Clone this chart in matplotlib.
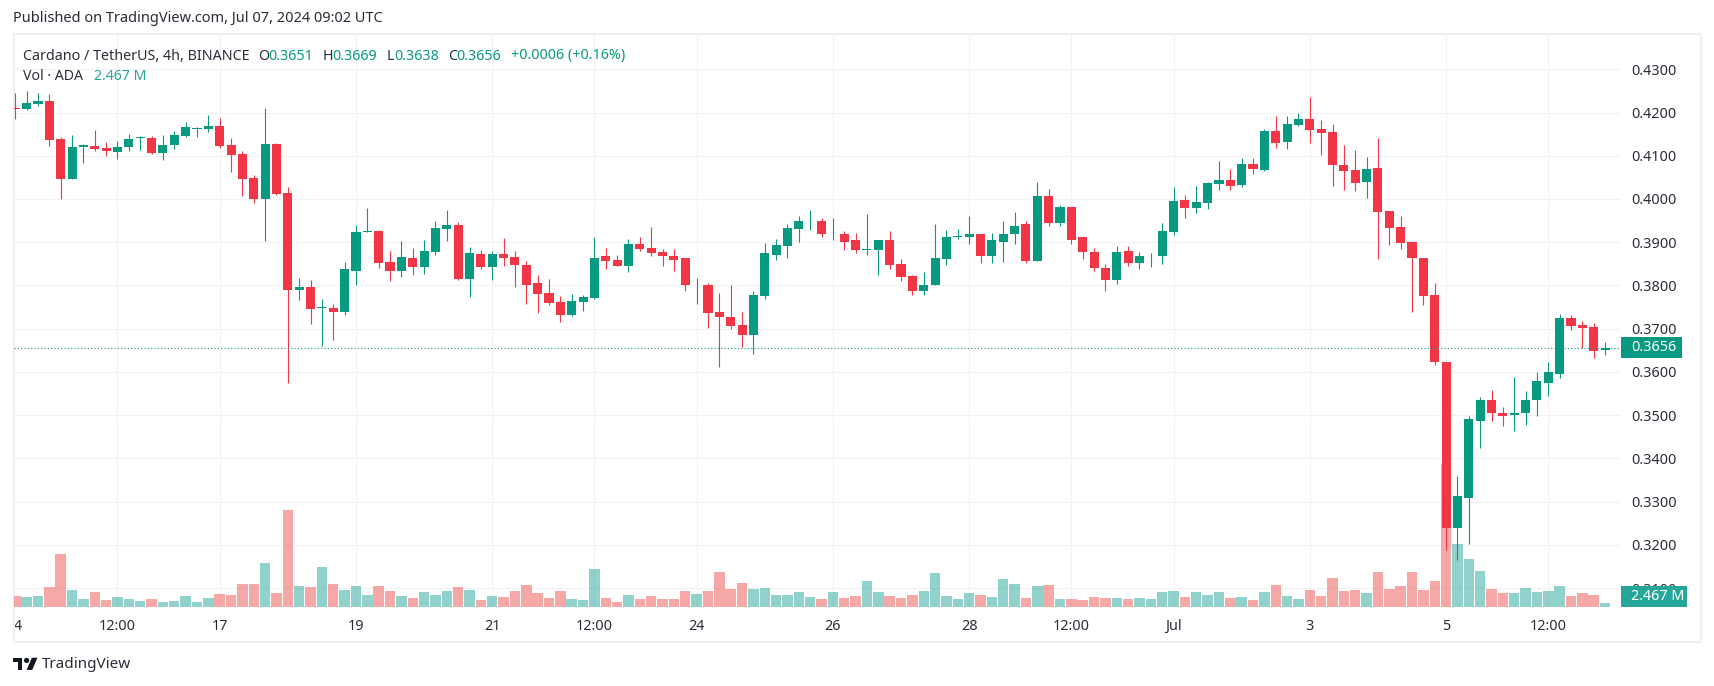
import matplotlib
matplotlib.use('Agg')
import matplotlib.pyplot as plt
from matplotlib.patches import Rectangle, Polygon

plt.rcParams['font.family'] = ['Noto Sans', 'DejaVu Sans']

opens = [.4211,.4207,.4220,.4227,.4139,.4046,.4121,.4123,.4118,.4109,.4120,.4141,.4141,.4107,.4125,.4146,.4162,.4162,.4169,.4125,
         .4104,.4049,.4000,.4127,.4014,.3790,.3796,.3748,.3748,.3739,.3834,.3924,.3926,.3854,.3834,.3864,.3843,.3878,.3931,.3940,
         .3815,.3873,.3843,.3873,.3866,.3847,.3806,.3783,.3762,.3732,.3762,.3772,.3867,.3860,.3846,.3897,.3887,.3878,.3869,.3864,
         .3800,.3802,.3739,.3726,.3709,.3686,.3776,.3871,.3892,.3931,.3948,.3950,.3918,.3920,.3904,.3883,.3883,.3904,.3850,.3823,
         .3786,.3800,.3862,.3913,.3913,.3920,.3869,.3901,.3920,.3941,.3857,.4008,.3945,.3982,.3911,.3878,.3841,.3813,.3880,.3853,
         .3867,.3867,.3923,.3997,.3979,.3990,.4034,.4043,.4032,.4080,.4066,.4157,.4131,.4171,.4184,.4161,.4154,.4078,.4066,.4039,
         .4071,.3972,.3935,.3900,.3863,.3777,.3624,.3238,.3309,.3487,.3536,.3506,.3501,.3504,.3534,.3575,.3596,.3724,.3708,.3703,.3651]
highs = [.4245,.4250,.4245,.4243,.4144,.4148,.4127,.4160,.4132,.4134,.4150,.4146,.4146,.4148,.4157,.4178,.4167,.4194,.4187,.4141,
         .4111,.4056,.4211,.4130,.4028,.3817,.3813,.3769,.3757,.3854,.3940,.3979,.3928,.3880,.3903,.3887,.3905,.3949,.3975,.3947,
         .3889,.3882,.3880,.3910,.3880,.3857,.3824,.3815,.3776,.3780,.3778,.3913,.3887,.3871,.3908,.3913,.3936,.3885,.3885,.3864,
         .3818,.3806,.3783,.3802,.3739,.3788,.3899,.3908,.3941,.3961,.3975,.3955,.3955,.3927,.3922,.3966,.3904,.3927,.3862,.3825,
         .3830,.3943,.3929,.3931,.3961,.3920,.3922,.3950,.3971,.3950,.4040,.4022,.3987,.3982,.3911,.3887,.3850,.3892,.3892,.3878,
         .3874,.3945,.4028,.4009,.4029,.4039,.4087,.4069,.4094,.4094,.4161,.4191,.4191,.4198,.4235,.4182,.4173,.4124,.4113,.4096,
         .4140,.3972,.3960,.3902,.3863,.3805,.3624,.3360,.3499,.3543,.3559,.3518,.3589,.3555,.3599,.3624,.3733,.3731,.3717,.3713,.3669]
lows = [.4186,.4206,.4216,.4123,.4000,.4046,.4083,.4112,.4100,.4093,.4111,.4113,.4104,.4090,.4116,.4144,.4144,.4155,.4118,.4063,
        .4007,.3991,.3903,.4009,.3574,.3766,.3711,.3660,.3674,.3732,.3801,.3924,.3840,.3810,.3820,.3824,.3827,.3871,.3903,.3813,
        .3773,.3838,.3813,.3845,.3796,.3757,.3736,.3755,.3716,.3729,.3741,.3769,.3839,.3846,.3832,.3880,.3867,.3846,.3834,.3786,
        .3758,.3702,.3612,.3700,.3658,.3642,.3769,.3860,.3864,.3901,.3929,.3911,.3906,.3883,.3874,.3871,.3825,.3839,.3811,.3779,
        .3779,.3800,.3848,.3908,.3897,.3853,.3853,.3855,.3897,.3853,.3857,.3938,.3938,.3897,.3862,.3834,.3786,.3804,.3846,.3837,
        .3843,.3850,.3916,.3955,.3967,.3976,.4020,.4020,.4027,.4057,.4064,.4117,.4115,.4168,.4129,.4101,.4029,.4020,.4018,.4002,
        .3861,.3893,.3884,.3738,.3754,.3615,.3187,.3166,.3201,.3425,.3487,.3474,.3464,.3478,.3497,.3545,.3587,.3696,.3656,.3632,.3638]
closes = [.4207,.4222,.4227,.4137,.4046,.4120,.4124,.4116,.4111,.4120,.4139,.4144,.4107,.4125,.4148,.4167,.4164,.4169,.4123,.4102,
          .4046,.4000,.4127,.4012,.3789,.3796,.3746,.3750,.3739,.3838,.3924,.3926,.3852,.3834,.3866,.3843,.3880,.3933,.3940,.3815,
          .3875,.3843,.3873,.3864,.3847,.3801,.3780,.3759,.3732,.3764,.3773,.3864,.3857,.3846,.3897,.3885,.3876,.3867,.3860,.3800,
          .3802,.3737,.3726,.3707,.3686,.3779,.3874,.3894,.3934,.3948,.3950,.3918,.3920,.3901,.3883,.3885,.3904,.3848,.3820,.3786,
          .3802,.3864,.3913,.3915,.3918,.3869,.3904,.3920,.3938,.3857,.4008,.3945,.3982,.3906,.3878,.3841,.3813,.3878,.3853,.3867,
          .3869,.3927,.3995,.3979,.3992,.4036,.4043,.4029,.4080,.4069,.4157,.4129,.4173,.4184,.4159,.4152,.4078,.4064,.4036,.4069,
          .3969,.3932,.3898,.3863,.3775,.3622,.3240,.3312,.3490,.3536,.3504,.3499,.3504,.3536,.3580,.3599,.3724,.3706,.3701,.3649,.3656]
# volume in millions of ADA
volumes = [6.8,6.2,6.8,12.3,32.7,10.5,4.9,9.3,4.3,6.2,4.9,3.7,4.9,3.1,3.7,6.8,3.1,5.6,8.0,7.4,
           14.2,14.2,27.1,8.6,59.8,13.0,12.3,24.7,14.2,10.5,13.0,7.4,13.0,9.9,6.8,5.6,9.3,7.4,9.9,12.3,
           10.5,4.3,6.8,6.2,9.9,13.6,8.6,5.6,9.9,4.9,4.3,23.4,5.6,3.1,7.4,4.9,6.8,4.9,4.9,9.9,
           8.0,9.9,21.6,11.1,14.8,11.1,11.7,7.4,7.4,9.3,6.2,4.9,9.3,5.6,6.8,16.0,9.3,6.8,5.6,7.4,
           9.9,21.0,6.8,4.9,8.6,7.4,6.2,17.3,14.2,5.6,13.0,13.6,4.9,4.9,4.3,6.2,5.6,5.6,4.9,5.6,
           4.9,9.3,9.9,6.2,9.3,7.4,9.3,5.6,6.2,4.3,9.3,13.6,6.8,4.9,10.5,6.8,17.9,9.9,10.5,8.6,
           21.6,11.1,13.0,21.6,10.5,16.0,88.2,38.9,29.6,22.2,11.1,8.6,8.6,11.7,9.3,9.9,13.0,6.8,8.6,7.4,2.467]

tick_positions = [9, 18, 30, 42, 51, 60, 72, 84, 93, 102, 114, 126, 135]
tick_labels = ['12:00', '17', '19', '21', '12:00', '24', '26', '28', '12:00', 'Jul', '3', '5', '12:00']
price_ticks = [.31, .32, .33, .34, .35, .36, .37, .38, .39, .40, .41, .42, .43]

GREEN = '#089981'
RED = '#F23645'
VOL_GREEN = (0.149, 0.651, 0.604, 0.5)
VOL_RED = (0.937, 0.325, 0.314, 0.5)
GRID = '#F2F2F5'
FRAME = '#EEEFF5'
TEXT = '#2A2E39'

W, H = 1714, 686
fig = plt.figure(figsize=(W / 100, H / 100), dpi=100, facecolor='white')


def fx(x):
    return x / W


def fy(y):
    return 1 - y / H


rect = [fx(14), fy(608), (1620.5 - 14) / W, (608 - 35) / H]
xlim = (-0.114, 141.36)
ylim = (0.30539, 0.43793)

# three layers so the bars sit over the grid and under the candles
ax = fig.add_axes(rect)
ax.set_xlim(xlim)
ax.set_ylim(ylim)
ax.set_xticks(tick_positions)
ax.set_xticklabels(tick_labels)
ax.set_yticks(price_ticks)
ax.set_yticklabels(['%.4f' % p for p in price_ticks])
ax.yaxis.tick_right()
ax.tick_params(axis='both', length=0, labelsize=10.4, labelcolor=TEXT)
ax.tick_params(axis='y', pad=7.5)
ax.tick_params(axis='x', pad=8)
ax.grid(True, color=GRID, linewidth=0.8)
ax.set_axisbelow(True)
for s in ax.spines.values():
    s.set_visible(False)
for lab in ax.get_xticklabels():
    if lab.get_text() == 'Jul':
        lab.set_fontweight('bold')
ax.text(0.25, -0.0315, '4', transform=ax.get_xaxis_transform(), ha='center', va='center',
        fontsize=10.4, color=TEXT)

x = list(range(len(closes)))
up = [c >= o for o, c in zip(opens, closes)]

ax_vol = fig.add_axes(rect, zorder=2)
ax_vol.patch.set_visible(False)
ax_vol.axis('off')
ax_vol.set_xlim(xlim)
ax_vol.set_ylim(-0.6, 352.7)
ax_vol.bar(x, volumes, width=0.92, color=[VOL_GREEN if u else VOL_RED for u in up], linewidth=0)

ax_price = fig.add_axes(rect, zorder=3)
ax_price.patch.set_visible(False)
ax_price.axis('off')
ax_price.set_xlim(xlim)
ax_price.set_ylim(ylim)
colors = [GREEN if u else RED for u in up]
ax_price.vlines(x, lows, highs, color=colors, linewidth=0.8)
ax_price.bar(x, [abs(c - o) for o, c in zip(opens, closes)],
             bottom=[min(o, c) for o, c in zip(opens, closes)],
             width=0.8, color=colors, linewidth=0)

# last price line and the tags on the scale
last = closes[-1]
ax_price.axhline(last, color=GREEN, linewidth=0.8, linestyle=(0, (1, 2)))
ax_price.add_patch(Rectangle((1, last - 0.0024), 61 / 1606.5, 0.0048, transform=ax_price.get_yaxis_transform(),
                             color=GREEN, linewidth=0, clip_on=False))
ax_price.text(1 + 11 / 1606.5, last, '%.4f' % last, transform=ax_price.get_yaxis_transform(),
              ha='left', va='center', color='white', fontsize=10.4, fontweight='medium')
ax_vol.add_patch(Rectangle((1, 0), 66 / 1606.5, 12.9, transform=ax_vol.get_yaxis_transform(),
                           color='#26A69A', linewidth=0, clip_on=False))
ax_vol.text(1 + 11 / 1606.5, 6.3, '2.467 M', transform=ax_vol.get_yaxis_transform(),
            ha='left', va='center', color='white', fontsize=10.4, fontweight='medium')

# outer frame
fig.add_artist(Rectangle((fx(13.5), fy(642)), (1701 - 13.5) / W, (642 - 34.3) / H, transform=fig.transFigure,
                         fill=False, edgecolor=FRAME, linewidth=1.5))

# header and legend
fig.text(fx(13), fy(19), 'Published on TradingView.com, Jul 07, 2024 09:02 UTC', color=TEXT,
         fontsize=10.5, va='center')
legend = [(23, 'Cardano / TetherUS, 4h, BINANCE', TEXT), (258, 'O', TEXT), (268.5, '0.3651', GREEN),
          (322.5, 'H', TEXT), (332, '0.3669', GREEN), (386.5, 'L', TEXT), (394, '0.3638', GREEN),
          (448, 'C', TEXT), (456.5, '0.3656', GREEN), (511, '+0.0006 (+0.16%)', GREEN)]
for lx, s, c in legend:
    fig.text(fx(lx), fy(56), s, color=c, fontsize=10.3, va='center')
fig.text(fx(23), fy(77), 'Vol · ADA', color=TEXT, fontsize=10.2, va='center')
fig.text(fx(94), fy(77), '2.467 M', color='#26A69A', fontsize=10.2, va='center')

# TradingView logo
sx, sy = 0.70, 0.68
ox, oy = 12.6, 655


def logo_pts(pts):
    return [(fx(ox + px * sx), fy(oy + py * sy)) for px, py in pts]


fig.add_artist(Polygon(logo_pts([(14, 22), (7, 22), (7, 11), (0, 11), (0, 4), (14, 4)]), closed=True,
                       transform=fig.transFigure, color='#131722', linewidth=0))
fig.add_artist(Polygon(logo_pts([(28, 22), (20, 22), (27.5, 4), (35.5, 4)]), closed=True,
                       transform=fig.transFigure, color='#131722', linewidth=0))
fig.add_artist(Polygon(logo_pts([(20 + 4 * dx, 8 + 4 * dy) for dx, dy in
                                 [(1, 0), (.7, .7), (0, 1), (-.7, .7), (-1, 0), (-.7, -.7), (0, -1), (.7, -.7)]]),
                       closed=True, transform=fig.transFigure, color='#131722', linewidth=0))
fig.text(fx(42), fy(664), 'TradingView', color=TEXT, fontsize=11, va='center')

fig.savefig('out.png', dpi=100)
